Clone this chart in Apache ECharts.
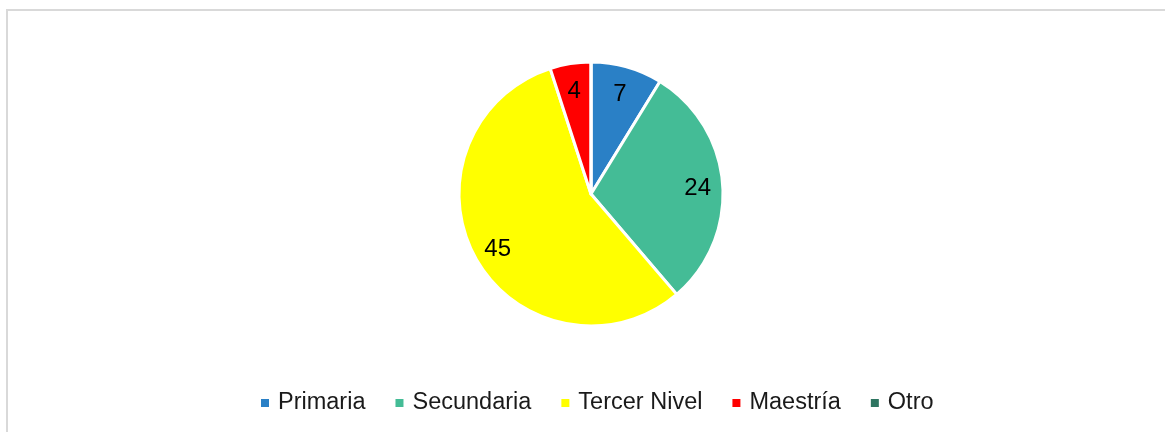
<!DOCTYPE html>
<html>
<head>
<meta charset="utf-8">
<script src="https://cdn.jsdelivr.net/npm/echarts@6/dist/echarts.min.js"></script>
<style>
  html, body { margin: 0; padding: 0; background: #fff; overflow: hidden; }
  #frame { position: absolute; left: 6px; top: 9px; width: 1300px; height: 600px; border: 2px solid #d9d9d9; box-sizing: border-box; }
  #chart { position: absolute; left: 0; top: 0; width: 1165px; height: 432px; }
</style>
</head>
<body>
<div id="frame"></div>
<div id="chart"></div>
<script>
const categories = ['Primaria', 'Secundaria', 'Tercer Nivel', 'Maestría', 'Otro']
const values = [7, 24, 45, 4, 0]
const colors = ['#2a80c6', '#44bc96', '#ffff00', '#ff0000', '#2e7561']

const pieData = categories.map((name, i) => ({
  name,
  value: values[i],
  itemStyle: { color: colors[i] },
}))

const chart = echarts.init(document.getElementById('chart'), null, { renderer: 'canvas' })
chart.setOption({
  animation: false,
  legend: {
    data: categories,
    bottom: 12,
    left: 254,
    icon: 'rect',
    itemWidth: 10,
    itemHeight: 10,
    itemGap: 28,
    textStyle: { fontFamily: 'Liberation Sans, Arial', fontSize: 23.5, color: '#1a1a1a', padding: [0, 0, 0, 3] },
  },
  series: [
    {
      // slices
      type: 'pie',
      center: [591, 194],
      radius: [0, 132],
      startAngle: 90,
      clockwise: true,
      silent: true,
      label: { show: false },
      labelLine: { show: false },
      itemStyle: { borderColor: '#fff', borderWidth: 3 },
      data: pieData,
    },
    {
      // value labels at ~0.8 of the radius
      type: 'pie',
      center: [591, 194],
      radius: [76, 132],
      startAngle: 90,
      clockwise: true,
      silent: true,
      legendHoverLink: false,
      itemStyle: { color: 'transparent' },
      label: {
        show: true,
        position: 'inside',
        formatter: p => (p.value > 0 ? p.value : ''),
        fontFamily: 'Liberation Sans, Arial',
        fontSize: 24,
        color: '#000',
        offset: [0, 3],
      },
      labelLine: { show: false },
      data: categories.map((name, i) => ({ name, value: values[i] })),
    },
  ],
})
</script>
</body>
</html>
